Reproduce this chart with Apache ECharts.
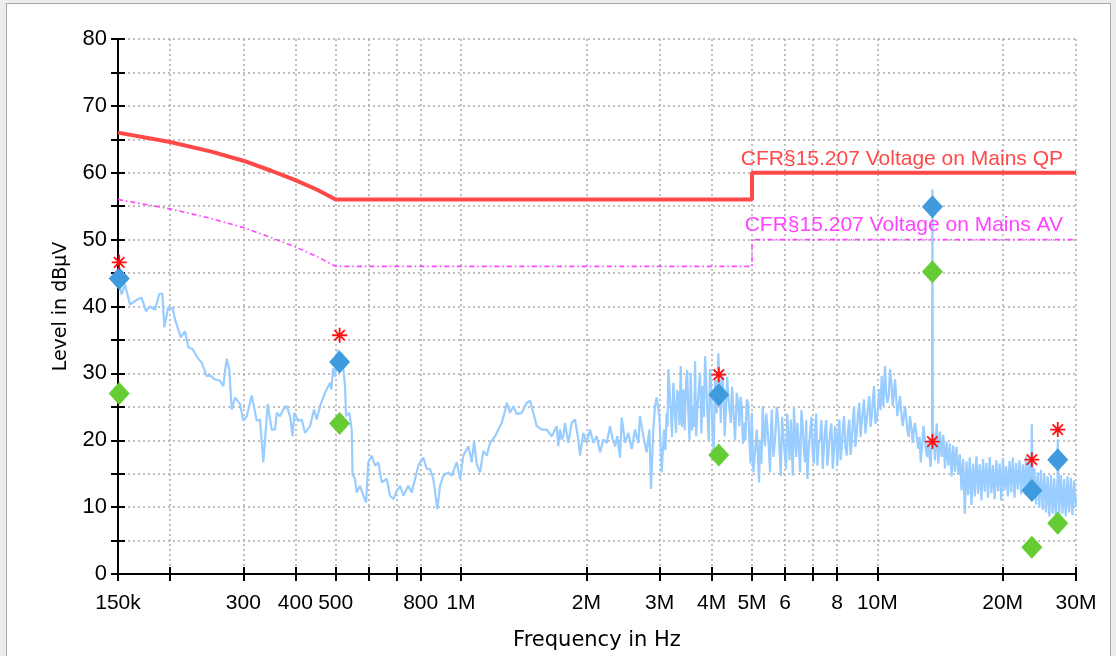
<!DOCTYPE html>
<html>
<head>
<meta charset="utf-8">
<title>Conducted emissions</title>
<script src="https://cdn.jsdelivr.net/npm/echarts@6/dist/echarts.min.js"></script>
<style>
  html, body { margin: 0; padding: 0; background: #ededed; }
  #frame { position: absolute; left: 6px; top: 3px; width: 1103px; height: 670px;
           background: #fff; border: 1px solid #a8a8a8; }
  #chart { position: absolute; left: 0; top: 0; width: 1116px; height: 656px; }
</style>
</head>
<body>
<div id="frame"></div>
<div id="chart"></div>
<script>
// Frequencies in MHz, levels in dBµV.

// Tick, grid and label positions on the frequency axis
const tickMHz = [0.15, 0.2, 0.3, 0.4, 0.5, 0.6, 0.7, 0.8, 1, 2, 3, 4, 5, 6, 7, 8, 10, 20, 30];
const labelMHz = [0.15, 0.3, 0.4, 0.5, 0.8, 1, 2, 3, 4, 5, 6, 8, 10, 20, 30];
const labelText = ['150k', '300', '400', '500', '800', '1M', '2M', '3M', '4M', '5M', '6', '8', '10M', '20M', '30M'];

// CFR §15.207 limit lines
const limitMHz = [0.15, 0.2, 0.25, 0.3, 0.35, 0.4, 0.45, 0.5, 5, 5, 30];
const qpLimitDb = [66, 64.6, 63.2, 61.8, 60.3, 58.9, 57.5, 56, 56, 60, 60];
const avLimitDb = [56, 54.6, 53.2, 51.8, 50.3, 48.9, 47.5, 46, 46, 50, 50];

// Final measurement points
const markerMHz = [0.151, 0.511, 4.16, 13.56, 23.5, 27.12];
const peakDb = [46.6, 35.7, 29.8, 19.8, 17.1, 21.6];
const qpDb = [44.2, 31.7, 26.8, 54.9, 12.5, 17.1];
const avDb = [27.0, 22.5, 17.8, 45.2, 4.0, 7.6];

// Pre-scan sweep [MHz, dBµV]
const sweep = [
  [0.150,44.0],[0.1531,41.8],[0.1559,43.3],[0.1603,40.3],[0.1664,41.0],[0.1710,41.3],[0.1751,39.3],
  [0.1791,40.0],[0.1841,39.5],[0.1885,41.9],[0.1917,41.9],[0.1938,36.9],[0.1981,39.9],[0.2030,39.7],
  [0.2056,38.1],[0.2122,35.4],[0.2173,36.3],[0.2213,33.9],[0.2267,33.6],[0.2326,32.4],[0.2383,31.6],
  [0.2450,29.6],[0.2495,29.7],[0.2565,29.1],[0.2637,28.9],[0.2685,28.1],[0.2736,32.2],[0.2776,30.6],
  [0.2813,24.6],[0.2865,26.4],[0.2946,25.4],[0.3000,22.9],[0.3057,23.6],[0.3143,26.7],[0.3231,22.9],
  [0.3290,23.1],[0.3351,16.7],[0.3433,25.4],[0.3510,21.6],[0.3575,21.6],[0.3609,24.1],[0.3675,23.6],
  [0.3743,24.6],[0.3814,25.1],[0.3884,23.6],[0.3942,20.6],[0.3977,24.1],[0.4066,22.9],[0.4144,23.1],
  [0.4220,21.1],[0.4338,22.1],[0.4435,24.6],[0.4502,23.1],[0.4585,25.1],[0.4714,27.1],[0.4846,28.6],
  [0.4880,27.6],[0.4930,30.8],[0.4982,29.5],[0.5060,33.5],[0.5121,32.1],[0.5216,30.6],[0.5265,28.1],
  [0.5294,23.6],[0.5392,24.1],[0.5464,21.6],[0.5488,14.9],[0.5564,14.2],[0.5617,12.2],[0.5721,13.2],
  [0.5826,11.7],[0.5914,10.7],[0.5989,16.7],[0.6103,17.7],[0.6216,16.2],[0.6330,16.7],[0.6450,13.7],
  [0.6631,14.2],[0.6753,11.7],[0.6878,11.2],[0.7008,12.4],[0.7138,13.2],[0.7269,11.7],[0.7473,13.2],
  [0.7615,12.2],[0.7755,14.2],[0.7898,16.2],[0.8119,17.4],[0.8273,15.7],[0.8426,15.7],[0.8581,14.2],
  [0.8710,11.2],[0.8773,9.7],[0.8905,13.2],[0.9069,14.7],[0.9324,15.2],[0.9501,14.7],[0.9767,16.7],
  [0.9947,14.2],[1.0130,17.7],[1.0414,19.1],[1.0612,16.7],[1.0748,19.9],[1.0910,16.4],[1.1111,15.2],
  [1.1315,18.4],[1.1530,17.7],[1.1743,19.6],[1.2072,20.6],[1.2294,21.6],[1.2528,22.6],[1.2759,24.4],
  [1.2879,25.6],[1.3117,24.1],[1.3358,25.1],[1.3612,23.9],[1.3994,24.1],[1.4386,25.6],[1.4651,25.9],
  [1.4916,24.1],[1.5199,22.1],[1.5625,21.6],[1.6063,21.6],[1.6515,20.6],[1.6977,22.1],[1.7128,19.1],
  [1.7289,21.6],[1.7452,20.1],[1.7608,20.6],[1.7773,22.6],[1.8102,19.6],[1.8445,22.6],[1.8785,23.1],
  [1.9131,20.1],[1.9311,17.7],[1.9667,21.1],[2.0040,19.6],[2.0410,21.6],[2.0786,19.6],[2.1180,20.6],
  [2.1570,18.2],[2.1968,20.1],[2.2385,19.6],[2.2797,22.1],[2.3141,20.1],[2.3436,19.1],[2.3736,20.6],
  [2.4093,17.4],[2.4321,23.4],[2.4770,19.6],[2.5226,21.1],[2.5704,18.7],[2.6178,21.6],[2.6661,19.6],
  [2.6913,23.6],[2.7408,20.6],[2.7927,18.2],[2.8332,21.6],[2.8599,12.7],[2.8965,21.6],[2.9240,25.1],
  [2.9516,26.4],[2.9943,23.6],
  [3.0344,15.2],[3.0732,21.6],[3.0968,18.5],[3.1196,24.1],[3.1330,22.0],[3.1473,30.6],[3.1895,24.6],
  [3.2120,20.5],[3.2357,28.6],[3.2844,21.1],[3.3050,27.5],[3.3264,26.6],[3.3480,22.3],[3.3708,31.1],
  [3.3950,22.0],[3.4196,27.6],[3.4450,21.5],[3.4712,28.6],[3.4930,30.5],[3.5156,24.1],[3.5390,20.0],
  [3.5627,30.1],[3.5880,21.5],[3.6143,25.1],[3.6310,22.0],[3.6485,31.8],[3.6720,20.6],[3.6951,24.6],
  [3.7230,27.6],[3.7508,30.1],[3.7790,21.0],[3.8073,28.1],[3.8320,23.5],[3.8561,32.6],[3.8810,29.0],
  [3.9054,24.1],[3.9350,20.0],[3.9641,30.6],[3.9900,27.5],[4.0149,21.6],[4.0450,18.5],[4.0754,29.1],
  [4.1120,24.0],[4.1505,33.0],[4.1780,28.5],[4.2060,22.6],[4.2360,30.0],[4.2671,27.6],[4.2990,20.6],
  [4.3313,25.1],[4.3590,29.5],[4.3868,26.6],[4.4160,24.5],[4.4454,22.6],[4.4770,28.0],[4.5096,24.6],
  [4.5520,20.0],[4.5953,27.1],[4.6280,25.5],[4.6620,22.1],[4.6930,26.5],[4.7243,25.1],[4.7540,19.5],
  [4.7847,22.6],[4.8200,20.0],[4.8567,26.1],[4.8920,25.5],[4.9271,20.1],[4.9600,16.5],[4.9929,24.1],
  [5.0372,15.2],[5.1329,21.6],[5.1987,13.7],
  [5.2275,20.1],[5.266,16.5],[5.3063,25.1],[5.340,21.0],[5.3742,19.1],[5.408,24.0],[5.4430,22.1],
  [5.484,19.0],[5.5248,15.2],[5.551,21.0],[5.5770,24.6],[5.628,17.5],[5.6798,20.1],[5.732,25.0],
  [5.7845,22.6],[5.823,18.5],[5.8617,14.7],[5.904,23.5],[5.9466,20.6],[5.991,18.0],[6.0359,15.7],
  [6.074,24.0],[6.1131,20.6],[6.154,17.0],[6.1949,23.1],[6.229,19.0],[6.2637,14.7],[6.303,25.0],
  [6.3438,21.1],[6.384,17.5],[6.4250,22.6],[6.473,19.5],[6.5217,15.2],[6.570,24.5],[6.6198,22.1],
  [6.662,18.5],[6.7046,16.7],[6.747,23.0],[6.7903,14.2],[6.841,18.5],[6.8922,21.1],[6.944,23.5],
  [6.9957,17.7],[7.040,16.5],[7.0853,21.6],[7.130,24.0],[7.1759,16.2],[7.229,19.5],[7.2841,20.1],
  [7.338,23.0],[7.3934,15.7],[7.440,19.0],[7.4880,21.6],[7.536,23.0],[7.5837,16.2],[7.640,18.5],
  [7.6979,21.1],[7.756,22.5],[7.8135,15.7],[7.864,18.5],[7.9136,22.1],[7.964,20.5],
  [8.0148,16.2],[8.059,21.0],[8.1039,23.1],[8.158,17.0],[8.2122,18.7],[8.264,22.0],[8.3172,23.6],
  [8.379,19.0],[8.4422,17.7],[8.503,21.5],[8.5644,23.1],[8.621,17.8],[8.6790,19.6],[8.734,23.0],
  [8.7900,25.1],[8.856,19.0],[8.9220,21.1],[8.986,24.0],[9.0515,25.6],[9.112,20.5],[9.1724,22.6],
  [9.231,24.5],[9.2898,26.1],[9.359,21.0],[9.4295,23.1],[9.497,25.0],[9.5660,26.6],[9.630,22.0],
  [9.6938,23.6],[9.755,26.0],[9.8178,28.1],[9.891,22.5],[9.9654,23.1],[10.037,25.0],[10.110,27.6],
  [10.177,24.5],[10.245,29.6],[10.290,27.5],[10.336,25.1],[10.385,28.0],[10.434,31.1],[10.500,27.0],
  [10.567,25.6],[10.646,26.5],[10.726,30.6],[10.807,28.5],[10.888,25.1],[10.957,27.0],[11.027,29.1],
  [11.097,26.5],[11.168,23.6],[11.252,25.0],[11.336,26.6],[11.421,24.0],[11.507,22.1],[11.580,23.5],
  [11.654,25.1],[11.728,23.5],[11.803,21.6],[11.892,20.5],[11.981,23.6],[12.071,22.0],[12.161,19.6],
  [12.239,21.5],[12.317,22.6],[12.430,20.5],[12.544,18.7],[12.628,20.5],[12.712,16.7],[12.804,19.0],
  [12.896,22.1],[12.993,20.5],[13.090,18.2],[13.174,17.5],[13.258,20.1],[13.42,16.0],
  [13.53,21.0],[13.56,57.5],[13.59,21.5],
  [13.631,21.1],[13.756,17.0],[13.883,22.5],[14.011,16.5],[14.140,21.3],[14.270,17.5],[14.401,20.8],
  [14.533,15.8],[14.667,19.8],[14.802,16.2],[14.938,19.5],[15.075,14.6],[15.214,19.2],[15.354,15.3],
  [15.495,19.0],[15.638,14.8],[15.782,17.9],[15.927,12.5],[16.074,17.2],[16.222,9.0],[16.371,16.8],
  [16.522,11.8],[16.674,17.4],[16.827,10.3],[16.982,16.5],[17.138,11.6],[17.296,17.6],[17.455,12.0],
  [17.616,16.4],[17.778,11.0],[17.941,17.2],[18.106,12.3],[18.273,16.6],[18.441,11.4],[18.611,17.5],
  [18.782,12.1],[18.955,16.3],[19.129,11.2],[19.305,17.0],[19.483,12.4],[19.662,16.5],[19.843,11.0],
  [20.026,17.3],[20.210,12.5],[20.396,16.1],[20.584,11.6],[20.773,16.9],[20.964,12.2],[21.157,17.4],
  [21.352,11.4],[21.548,16.6],[21.746,12.6],[21.946,17.0],[22.148,11.9],[22.352,16.4],[22.558,12.3],
  [22.765,17.6],[22.975,11.8],[23.186,17.2],[23.399,12.0],[23.495,22.4],[23.614,13.0],[23.832,15.8],
  [24.051,10.4],[24.272,15.2],[24.496,10.0],[24.721,15.6],[24.949,9.6],[25.178,15.0],[25.410,9.2],
  [25.644,14.6],[25.880,8.6],[26.118,14.8],[26.358,9.0],[26.600,14.3],[26.845,8.2],[27.092,14.5],
  [27.12,20.1],[27.341,8.8],[27.593,14.8],[27.847,9.0],[28.103,14.2],[28.361,8.6],[28.622,14.6],
  [28.886,9.2],[29.151,14.4],[29.420,8.8],[29.690,14.0],[29.963,10.0],[30.0,11.5]
];

const FONT = '"Liberation Sans", Arial, sans-serif';
const NAME_FONT = '"DejaVu Sans", "Liberation Sans", sans-serif';
const ASTERISK = 'path://M8.8,0h2.4v20h-2.4z M0,8.8h20v2.4h-20z ' +
  'M2.2,3.9l1.7,-1.7l13.9,13.9l-1.7,1.7z M16.1,2.2l1.7,1.7l-13.9,13.9l-1.7,-1.7z';

function freqLabel(v) {
  for (let i = 0; i < labelMHz.length; i++) {
    if (Math.abs(v - labelMHz[i]) / labelMHz[i] < 1e-6) return labelText[i];
  }
  return '';
}

const zip = (xs, ys) => xs.map((x, i) => [x, ys[i]]);

const gridLine = { show: true, lineStyle: { color: '#aaaaaa', width: 1.5, type: [2, 3] } };
const tickStyle = { color: '#000', width: 2 };

const chart = echarts.init(document.getElementById('chart'), null, { renderer: 'canvas' });

chart.setOption({
  animation: false,
  backgroundColor: 'transparent',
  grid: { left: 118, right: 40, top: 39, bottom: 81, containLabel: false },
  xAxis: [
    {
      type: 'log', logBase: 10, min: 0.15, max: 30,
      name: 'Frequency in Hz', nameLocation: 'middle', nameGap: 56,
      nameTextStyle: { fontFamily: NAME_FONT, fontSize: 21, color: '#000' },
      axisLine: { show: true, onZero: false, lineStyle: tickStyle },
      axisTick: { show: true, customValues: tickMHz, length: 7, lineStyle: tickStyle },
      axisLabel: { show: true, customValues: labelMHz, formatter: freqLabel, margin: 19,
                   fontFamily: FONT, fontSize: 21, color: '#000' },
      splitLine: gridLine
    },
    {
      type: 'log', logBase: 10, min: 0.15, max: 30, position: 'bottom',
      axisLine: { show: false },
      axisTick: { show: true, inside: true, customValues: tickMHz, length: 7, lineStyle: tickStyle },
      axisLabel: { show: false },
      splitLine: { show: false }
    }
  ],
  yAxis: [
    {
      type: 'value', min: 0, max: 80, interval: 5,
      name: 'Level in dBµV', nameLocation: 'middle', nameGap: 47,
      nameTextStyle: { fontFamily: NAME_FONT, fontSize: 19, color: '#000' },
      axisLine: { show: true, onZero: false, lineStyle: tickStyle },
      axisTick: { show: true, length: 7, lineStyle: tickStyle },
      axisLabel: { formatter: v => (v % 10 === 0 ? String(v) : ''), margin: 11,
                   fontFamily: FONT, fontSize: 22, color: '#000' },
      splitLine: gridLine
    },
    {
      type: 'value', min: 0, max: 80, interval: 5, position: 'left',
      axisLine: { show: false },
      axisTick: { show: true, inside: true, length: 7, lineStyle: tickStyle },
      axisLabel: { show: false },
      splitLine: { show: false }
    }
  ],
  series: [
    {
      name: 'AV limit', type: 'line', symbol: 'none', silent: true, z: 2,
      data: zip(limitMHz, avLimitDb),
      lineStyle: { color: '#ff44ff', width: 1.6, type: [5, 3, 1.5, 3] },
      markPoint: {
        symbol: 'circle', symbolSize: 0, silent: true,
        data: [{ coord: [30, 50] }],
        label: { show: true, position: 'left', distance: 13, offset: [0, -14],
                 formatter: 'CFR§15.207 Voltage on Mains AV',
                 fontFamily: FONT, fontSize: 21, color: '#ff44ff' }
      }
    },
    {
      name: 'QP limit', type: 'line', symbol: 'none', silent: true, z: 2,
      data: zip(limitMHz, qpLimitDb),
      lineStyle: { color: '#ff4848', width: 4 },
      markPoint: {
        symbol: 'circle', symbolSize: 0, silent: true,
        data: [{ coord: [30, 60] }],
        label: { show: true, position: 'left', distance: 13, offset: [0, -14],
                 formatter: 'CFR§15.207 Voltage on Mains QP',
                 fontFamily: FONT, fontSize: 21, color: '#ff4848' }
      }
    },
    {
      name: 'Sweep', type: 'line', symbol: 'none', silent: true, sampling: null, z: 3,
      data: sweep,
      lineStyle: { color: '#99ccff', width: 2.2 }
    },
    {
      name: 'AV final', type: 'scatter', symbol: 'diamond', symbolSize: [21, 23], silent: true, z: 6,
      data: zip(markerMHz, avDb),
      itemStyle: { color: '#66cc33', opacity: 1 }
    },
    {
      name: 'QP final', type: 'scatter', symbol: 'diamond', symbolSize: [21, 23], silent: true, z: 6,
      data: zip(markerMHz, qpDb),
      itemStyle: { color: '#3f9ade', opacity: 1 }
    },
    {
      name: 'Peak', type: 'scatter', symbol: ASTERISK, symbolSize: 15, silent: true, z: 7,
      data: zip(markerMHz, peakDb),
      itemStyle: { color: '#ff1010', opacity: 1 }
    }
  ]
});
</script>
</body>
</html>
